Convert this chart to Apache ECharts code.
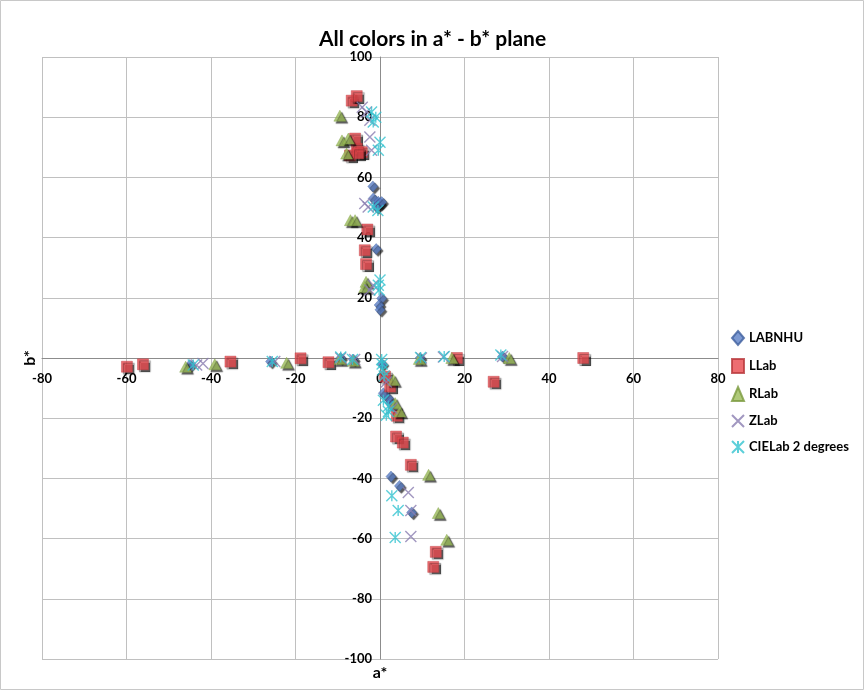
<!DOCTYPE html>
<html>
<head>
<meta charset="utf-8">
<script src="https://cdn.jsdelivr.net/npm/echarts@6/dist/echarts.min.js"></script>
<style>html,body{margin:0;padding:0;background:#fff}#c{width:865px;height:691px}</style>
</head>
<body>
<div id="c"></div>
<script>
var xTicks = [-80, -60, -40, -20, 0, 20, 40, 60, 80];
var yTicks = [-100, -80, -60, -40, -20, 0, 20, 40, 60, 80, 100];
var seriesNames = ['LABNHU', 'LLab', 'RLab', 'ZLab', 'CIELab 2 degrees'];

var labnhu = [[-1.7,57],[-1.6,53],[-0.4,51.9],[0,51.3],[-0.8,50.2],[0.4,51.8],[-0.9,36.2],[0.4,19.8],[-0.2,17.6],[0,16],
  [-45,-2.3],[-25.9,-1.2],[-9.3,0],[-6.3,-0.5],[9.5,0],[29,0.5],[0.5,-2],
  [0.8,-11.7],[2,-13.4],[2.4,-15],[2.6,-39.4],[4.6,-42.5],[7.5,-51.3]];
var llab = [[-6.7,85.5],[-5.5,87],[-5.9,72.9],[-5.5,69.5],[-4.3,68.4],[-7.1,67.3],[-5.2,68],[-3,42.7],[-3.6,35.8],[-3.3,31.2],
  [-59.9,-2.9],[-56.1,-2.1],[-35.4,-1.2],[-18.8,-0.1],[-12.2,-1.4],[18.2,0],[48.1,0],[26.9,-7.9],
  [1.2,-6.2],[2.4,-9.5],[4,-19.2],[3.8,-26.1],[5.4,-28.1],[7.3,-35.5],[13.2,-64.4],[12.6,-69.4]];
var rlab = [[-9.5,80.5],[-9,72.3],[-7.5,72.9],[-7.9,67.9],[-7,45.8],[-5.9,45.8],[-3.3,25.3],[-3.6,23.6],
  [-46,-2.9],[-39.1,-2.1],[-22.1,-1.6],[-9.5,-0.3],[-6.3,-0.9],[9.3,-0.3],[17,0],[30.6,0],
  [3.2,-7.3],[3.6,-15],[4.7,-17.8],[11.5,-38.8],[13.8,-51.5],[15.8,-60.4]];
var zlab = [[-4.2,83.3],[-3.2,81.7],[-2.4,79],[-2.4,73.4],[-2,69],[-3.6,51.3],[-2.8,50.2],[-1.6,24.2],[-2.4,22.6],
  [-43.4,-2.3],[-41.9,-1.8],[-24.9,-1.2],[-9.3,0],[-6,-0.5],[9.8,0],[15,0.3],[29,0.5],
  [1.5,-8],[2.8,-16.7],[6.7,-44.7],[7.3,-50.7],[7.3,-59.3]];
var cielab = [[-2,81.7],[-1,80],[-1.6,78.4],[0,71.7],[-0.4,69],[-1.6,50.2],[-0.5,49],[0,25.9],[-0.4,24.2],[-0.2,22.6],
  [-44.2,-2.3],[-25.5,-1.2],[-9.3,0.3],[-6.5,-0.5],[9.6,0.2],[15.2,0.5],[28.6,1],
  [0.4,-0.5],[0.5,-2],[0.6,-4],[1,-6],[0.8,-14],[2,-16],[2,-17.8],[1.5,-19],[2.8,-45.8],[4.3,-50.7],[3.6,-59.6]];

var FONT = 'Lato';
var shadow = {shadowColor:'rgba(0,0,0,0.8)', shadowOffsetX:2, shadowOffsetY:2, shadowBlur:1};
var GRID = {left:42, right:147, top:57, bottom:32};
var gw = 865 - GRID.left - GRID.right, gh = 691 - GRID.top - GRID.bottom;
var nameStyle = {fontFamily:FONT, fontSize:16, fontWeight:'bold', color:'#000'};

var chart = echarts.init(document.getElementById('c'), null, {renderer:'canvas'});
chart.setOption({
  animation:false,
  backgroundColor:'#fff',
  title:{text:'All colors in a* - b* plane', left:'center', top:24,
    textStyle:{fontFamily:FONT, fontSize:21, fontWeight:'bold', color:'#000'}},
  legend:{orient:'vertical', left:726, top:325, itemGap:12, itemWidth:12, itemHeight:14,
    textStyle:{fontFamily:FONT, fontSize:13, fontWeight:'bold', color:'#000'},
    data:seriesNames},
  grid:{left:GRID.left, right:GRID.right, top:GRID.top, bottom:GRID.bottom, containLabel:false, outerBoundsMode:'none'},
  xAxis:{type:'value', min:xTicks[0], max:xTicks[xTicks.length-1], interval:20,
    position:'bottom', offset:-gh/2,
    name:'a*', nameLocation:'middle', nameGap:gh/2 + 6, nameTextStyle:nameStyle,
    axisLine:{onZero:false, lineStyle:{color:'#8c8c8c', width:1}},
    axisTick:{show:false},
    axisLabel:{margin:14, fontFamily:FONT, fontSize:13, fontWeight:'bold', color:'#000',
      showMinLabel:true, showMaxLabel:true},
    splitLine:{show:true, lineStyle:{color:'#c0c0c0', width:1}}},
  yAxis:{type:'value', min:yTicks[0], max:yTicks[yTicks.length-1], interval:20,
    position:'left', offset:-gw/2,
    name:'b*', nameLocation:'middle', nameRotate:90, nameGap:gw/2 + 4, nameTextStyle:nameStyle,
    axisLine:{onZero:false, lineStyle:{color:'#8c8c8c', width:1}},
    axisTick:{show:false},
    axisLabel:{margin:8, fontFamily:FONT, fontSize:13, fontWeight:'bold', color:'#000',
      showMinLabel:true, showMaxLabel:true},
    splitLine:{show:true, lineStyle:{color:'#c0c0c0', width:1}}},
  graphic:[
    {type:'rect', shape:{x:0.5, y:0.5, width:863, height:689}, style:{fill:'none', stroke:'#c8c8c8', lineWidth:1}, silent:true}
  ],
  series:[
    {name:seriesNames[0], type:'scatter', data:labnhu, symbol:'diamond', symbolSize:[10,11],
      itemStyle:Object.assign({color:'#5b7fc7', borderColor:'#3e5f9e', borderWidth:0.5}, shadow)},
    {name:seriesNames[1], type:'scatter', data:llab, symbol:'rect', symbolSize:11,
      itemStyle:Object.assign({color:'#e8484e', borderColor:'#b8383c', borderWidth:0.5}, shadow)},
    {name:seriesNames[2], type:'scatter', data:rlab, symbol:'triangle', symbolSize:[12,11],
      itemStyle:Object.assign({color:'#9bbb59', borderColor:'#7a9a3e', borderWidth:0.5}, shadow)},
    {name:seriesNames[3], type:'scatter', data:zlab, symbol:'path://M0,0L10,10M10,0L0,10', symbolSize:11,
      itemStyle:{color:'rgba(0,0,0,0)', borderColor:'#8a7db0', borderWidth:1.4}},
    {name:seriesNames[4], type:'scatter', data:cielab, symbol:'path://M0,0L10,10M10,0L0,10M5,0L5,10', symbolSize:11,
      itemStyle:{color:'rgba(0,0,0,0)', borderColor:'#33c3cf', borderWidth:1.4}}
  ]
});
</script>
</body>
</html>
